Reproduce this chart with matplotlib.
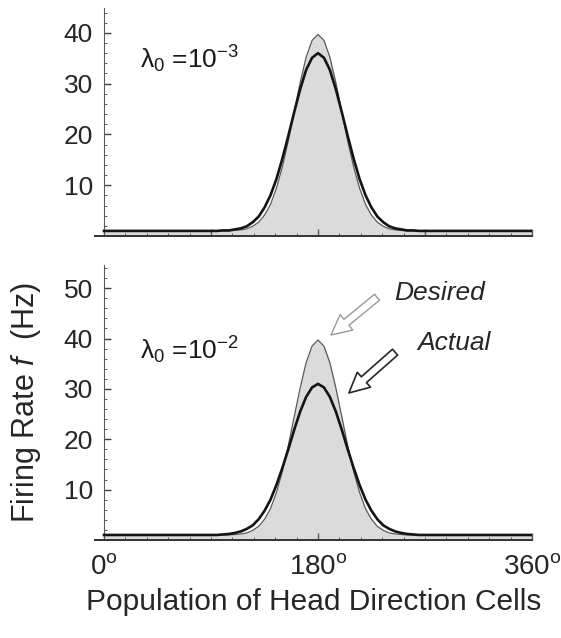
import numpy as np
import matplotlib
matplotlib.use("Agg")
import matplotlib.pyplot as plt
from matplotlib.ticker import MultipleLocator, FixedLocator

plt.rcParams['font.family'] = ['Liberation Sans', 'DejaVu Sans']
plt.rcParams['mathtext.fontset'] = 'custom'
plt.rcParams['mathtext.rm'] = 'Liberation Sans'
plt.rcParams['mathtext.it'] = 'Liberation Sans:italic'

# preferred direction of each cell (deg)
angle = [0, 90, 95, 100, 105, 110, 115, 120, 125, 130, 135, 140, 145, 150, 155, 160,
         165, 170, 175, 180, 185, 190, 195, 200, 205, 210, 215, 220, 225, 230, 235,
         240, 245, 250, 255, 260, 265, 270, 360]

# desired firing rate (same target in both panels)
desired = [1.0, 1.0, 1.0, 1.0, 1.0, 1.1, 1.2, 1.4, 1.9, 2.7, 4.1, 6.2, 9.4, 13.6, 18.7, 24.5,
           30.2, 35.2, 38.5, 39.7, 38.5, 35.2, 30.2, 24.5, 18.7, 13.6, 9.4, 6.2, 4.1, 2.7, 1.9,
           1.4, 1.2, 1.1, 1.0, 1.0, 1.0, 1.0, 1.0]

# actual firing rate, lambda0 = 1e-3
actual_3 = [1.0, 1.0, 1.0, 1.1, 1.1, 1.3, 1.5, 1.9, 2.7, 3.8, 5.6, 8.0, 11.2, 15.2, 19.7, 24.4,
            28.9, 32.7, 35.1, 36.0, 35.1, 32.7, 28.9, 24.4, 19.7, 15.2, 11.2, 8.0, 5.6, 3.8, 2.7,
            1.9, 1.5, 1.3, 1.1, 1.1, 1.0, 1.0, 1.0]

# actual firing rate, lambda0 = 1e-2
actual_2 = [1.0, 1.0, 1.0, 1.1, 1.2, 1.4, 1.7, 2.2, 2.9, 4.1, 5.8, 8.0, 10.9, 14.3, 18.0, 21.9,
            25.5, 28.4, 30.3, 31.0, 30.3, 28.4, 25.5, 21.9, 18.0, 14.3, 10.9, 8.0, 5.8, 4.1, 2.9,
            2.2, 1.7, 1.4, 1.2, 1.1, 1.0, 1.0, 1.0]

xtick_pos = [0, 180, 360]
xtick_lab = [r'0$^\mathrm{o}$', r'180$^\mathrm{o}$', r'360$^\mathrm{o}$']

fig = plt.figure(figsize=(5.61, 6.38), dpi=100)
ax1 = fig.add_axes([0.1693, 0.6301, 0.779, 0.3574])
ax2 = fig.add_axes([0.1693, 0.1536, 0.779, 0.4310])

def panel(ax, act, ytop, yticks):
    ax.fill_between(angle, 0, desired, color='0.86', lw=0, zorder=1)
    ax.plot(angle, desired, color='0.35', lw=0.9, zorder=2)
    ax.plot(angle, act, color='0.08', lw=1.9, zorder=3)
    ax.set_xlim(-7.6, 360)
    ax.set_ylim(0, ytop)
    for s in ['top', 'right']:
        ax.spines[s].set_visible(False)
    ax.spines['left'].set_position(('data', 0))
    ax.spines['left'].set_color('0.35')
    ax.spines['bottom'].set_color('0.2')
    ax.spines['bottom'].set_linewidth(1.4)
    ax.yaxis.set_major_locator(FixedLocator(yticks))
    ax.yaxis.set_minor_locator(MultipleLocator(2))
    ax.xaxis.set_major_locator(MultipleLocator(90))
    ax.xaxis.set_minor_locator(MultipleLocator(18))
    ax.tick_params(which='both', direction='in', color='0.35')
    ax.tick_params(which='major', length=5, width=1)
    ax.tick_params(which='minor', length=2.5, width=0.7)
    ax.tick_params(axis='y', labelsize=19, pad=8, colors='0.25', labelcolor='0.15')
    ax.patch.set_alpha(0)

panel(ax1, actual_3, 44.9, [10, 20, 30, 40])
panel(ax2, actual_2, 54.6, [10, 20, 30, 40, 50])
ax1.set_xticklabels([])

ax2.set_xticks(xtick_pos)
ax2.set_xticklabels(xtick_lab)
ax2.xaxis.set_minor_locator(FixedLocator([18, 36, 54, 72, 90, 108, 126, 144, 162, 198, 216,
                                          234, 252, 270, 288, 306, 324, 342]))
ax2.tick_params(axis='x', labelsize=20, pad=10, labelcolor='0.15')

ax2.set_xlabel('Population of Head Direction Cells', fontsize=21.5, color='0.15', labelpad=6)
ax2.set_ylabel(r'Firing Rate $\mathit{f}$  (Hz)', fontsize=22, color='0.15')
ax2.yaxis.set_label_coords(-0.118, 0.5)

ax1.text(30, 34.7, r'$\mathrm{λ_0}$ =10$^{-3}$', fontsize=19, va='center', color='0.1')
ax2.text(30, 37.7, r'$\mathrm{λ_0}$ =10$^{-2}$', fontsize=19, va='center', color='0.1')

ax2.text(243.9, 49.0, 'Desired', fontsize=19, style='italic', va='center', color='0.15')
ax2.text(263.3, 39.1, 'Actual', fontsize=19, style='italic', va='center', color='0.15')

arrow = 'simple,head_length=0.9,head_width=0.9,tail_width=0.35'
ax2.annotate('', xy=(190.9, 40.7), xytext=(229.6, 48.2),
             arrowprops=dict(arrowstyle=arrow, mutation_scale=16,
                             fc='white', ec='0.6', lw=1.0, shrinkA=0, shrinkB=0))
ax2.annotate('', xy=(206, 29.2), xytext=(244.8, 37.3),
             arrowprops=dict(arrowstyle=arrow, mutation_scale=16,
                             fc='white', ec='0.15', lw=1.2, shrinkA=0, shrinkB=0))

plt.savefig('out.png', dpi=100)
